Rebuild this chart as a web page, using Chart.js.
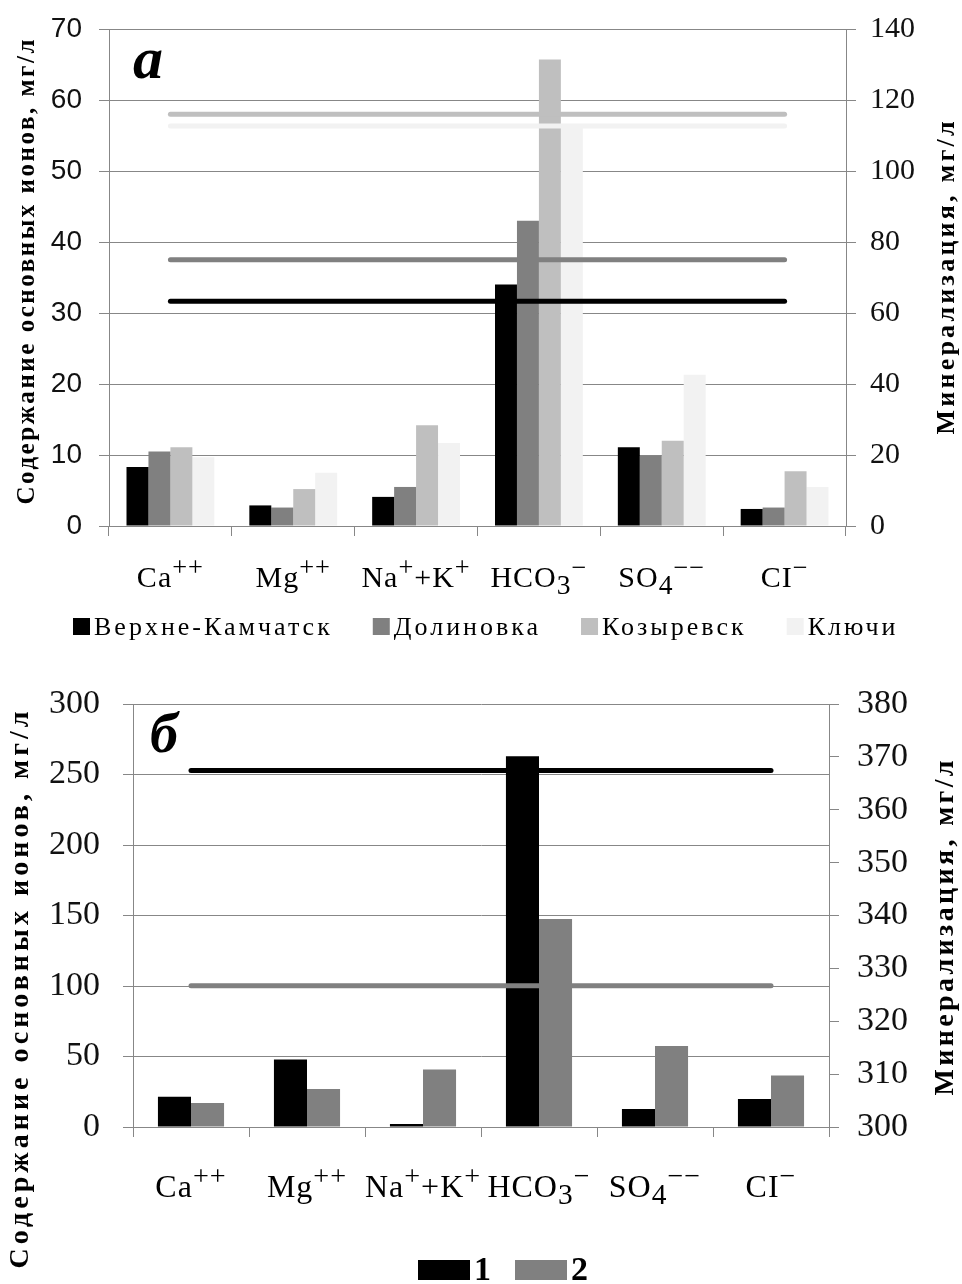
<!DOCTYPE html>
<html lang="ru">
<head>
<meta charset="utf-8">
<title>Ионный состав и минерализация</title>
<script src="https://cdn.jsdelivr.net/npm/chart.js@4.4.1/dist/chart.umd.min.js"></script>
<style>
  body { margin: 0; background: #fff; width: 962px; height: 1284px; overflow: hidden; position: relative; }
  .box { position: absolute; left: 0; width: 962px; }
  #boxA { top: 0; height: 655px; }
  #boxB { top: 660px; height: 624px; }
</style>
</head>
<body>
<div class="box" id="boxA"><canvas id="chartA"></canvas></div>
<div class="box" id="boxB"><canvas id="chartB"></canvas></div>

<script>
// categories (ions); ^{} = superscript, _{} = subscript
const categories = ['Ca^{++}', 'Mg^{++}', 'Na^{+}+K^{+}', 'HCO_{3}^{−}', 'SO_{4}^{−−}', 'CI^{−}'];
const greys = ['#000000', '#808080', '#bfbfbf', '#f2f2f2'];

// chart а - ions, mg/l (left axis)
const stationsA = ['Верхне-Камчатск', 'Долиновка', 'Козыревск', 'Ключи'];
const verkhneKamchatsk = [8.3, 2.9, 4.1, 34.0, 11.1, 2.4];
const dolinovka = [10.5, 2.6, 5.5, 43.0, 9.9, 2.6];
const kozyrevsk = [11.1, 5.2, 14.2, 65.7, 12.0, 7.7];
const klyuchi = [9.7, 7.5, 11.7, 56.5, 21.3, 5.5];
// mineralisation, mg/l (right axis), same order as stationsA
const mineralA = [63.3, 75.0, 116.0, 112.7];
const leftTicksA = [0, 10, 20, 30, 40, 50, 60, 70];
const rightTicksA = [0, 20, 40, 60, 80, 100, 120, 140];

// chart б
const seriesB = ['1', '2'];
const ionsB1 = [21.5, 47.9, 2.1, 263.0, 12.7, 19.9];
const ionsB2 = [17.1, 26.9, 40.7, 147.5, 57.4, 36.6];
const mineralB = [367.4, 326.7];
const leftTicksB = [0, 50, 100, 150, 200, 250, 300];
const rightTicksB = [300, 310, 320, 330, 340, 350, 360, 370, 380];

const gridColor = '#878787';
const serif = '"Liberation Serif", "Times New Roman", serif';

// draws a label with sub/superscripts centered at cx
function drawRich(ctx, label, cx, y, size) {
    const parts = [];
    label.replace(/([_^])\{([^}]*)\}|([^_^]+)/g, (m, mode, inner, plain) => {
        if (plain) parts.push({ t: plain, s: size, dy: 0 });
        else if (mode === '^') parts.push({ t: inner, s: size * 0.88, dy: -size * 0.36 });
        else parts.push({ t: inner, s: size * 0.92, dy: size * 0.22 });
        return m;
    });
    ctx.letterSpacing = '1px';
    let w = 0;
    parts.forEach(p => {
        ctx.font = p.s + 'px ' + serif;
        p.w = ctx.measureText(p.t).width;
        w += p.w;
    });
    let x = cx - w / 2;
    ctx.textAlign = 'left';
    parts.forEach(p => {
        ctx.font = p.s + 'px ' + serif;
        ctx.fillText(p.t, x, y + p.dy);
        x += p.w;
    });
}

// category labels, axis titles, panel letter and legend
const decor = {
    id: 'decor',
    afterDraw(chart, args, o) {
        const ctx = chart.ctx;
        const xs = chart.scales.x;
        ctx.save();
        ctx.fillStyle = '#000';
        ctx.textBaseline = 'alphabetic';
        chart.data.labels.forEach((lab, i) => {
            drawRich(ctx, lab, xs.getPixelForValue(i), o.labelY, o.labelSize);
        });

        o.titles.forEach(t => {
            ctx.save();
            ctx.translate(t.x, t.y);
            ctx.rotate(-Math.PI / 2);
            ctx.font = 'bold ' + t.size + 'px ' + serif;
            ctx.letterSpacing = '0px';
            const w0 = ctx.measureText(t.text).width;
            const sp = Math.max(0, (t.len - w0) / (t.text.length - 1));
            ctx.letterSpacing = sp + 'px';
            ctx.textAlign = 'left';
            ctx.textBaseline = 'middle';
            ctx.fillText(t.text, -t.len / 2, 0);
            ctx.restore();
        });

        ctx.letterSpacing = '0px';
        ctx.textAlign = 'left';
        ctx.font = 'bold italic ' + o.letter.size + 'px ' + serif;
        ctx.fillText(o.letter.text, o.letter.x, o.letter.y);

        const lg = o.legend;
        let x = lg.x;
        ctx.font = lg.font;
        ctx.letterSpacing = lg.spacing + 'px';
        chart.data.datasets.filter(d => d.type === 'bar').forEach(d => {
            ctx.fillStyle = d.backgroundColor;
            ctx.fillRect(x, lg.y - lg.boxH, lg.boxW, lg.boxH);
            x += lg.boxW + 4;
            ctx.fillStyle = '#000';
            ctx.fillText(d.label, x, lg.y);
            x += ctx.measureText(d.label).width + lg.gap;
        });
        ctx.restore();
    }
};

function yScale(pos, ticks, font, padding, width, grid) {
    return {
        position: pos,
        min: ticks[0],
        max: ticks[ticks.length - 1],
        afterBuildTicks: s => { s.ticks = ticks.map(v => ({ value: v })); },
        ticks: { font: font, color: '#111', padding: padding },
        grid: { color: gridColor, tickLength: 10, drawOnChartArea: grid },
        border: { color: gridColor },
        // fixed width; let layout padding alone decide the plot top
        afterFit: s => { s.width = width; s.paddingTop = 0; s.paddingBottom = 0; }
    };
}

function xScale(height) {
    return {
        offset: true,
        grid: { drawOnChartArea: false, drawTicks: true, tickLength: 10, color: gridColor, offset: true },
        border: { color: gridColor },
        ticks: { display: false },
        afterFit: s => { s.height = height; }
    };
}

function lineSet(label, value, color) {
    return {
        type: 'line',
        label: label,
        data: categories.map(() => value),
        borderColor: color,
        borderWidth: 5,
        borderCapStyle: 'round',
        pointRadius: 0,
        fill: false,
        yAxisID: 'y2',
        order: 0
    };
}

// chart а
const ionsA = [verkhneKamchatsk, dolinovka, kozyrevsk, klyuchi];
new Chart(document.getElementById('chartA'), {
    type: 'bar',
    data: {
        labels: categories,
        datasets: [
            ...stationsA.map((name, i) => ({
                type: 'bar', label: name, data: ionsA[i], backgroundColor: greys[i],
                yAxisID: 'y', order: 1, categoryPercentage: 0.715, barPercentage: 1
            })),
            ...mineralA.map((v, i) => lineSet('Минерализация ' + stationsA[i], v, greys[i]))
        ]
    },
    options: {
        responsive: true,
        maintainAspectRatio: false,
        animation: false,
        layout: { padding: { top: 29, bottom: 0, left: 0, right: 0 } },
        scales: {
            x: xScale(129),
            y: yScale('left', leftTicksA, { family: '"Liberation Sans", Arial, sans-serif', size: 28 }, 17, 109, true),
            y2: yScale('right', rightTicksA, { family: serif, size: 30 }, 14, 116, false)
        },
        plugins: {
            legend: { display: false },
            tooltip: { enabled: false },
            decor: {
                labelY: 587, labelSize: 30,
                titles: [
                    { text: 'Содержание основных ионов, мг/л', x: 28, y: 272, size: 25, len: 465 },
                    { text: 'Минерализация, мг/л', x: 947, y: 278, size: 26, len: 313 }
                ],
                letter: { text: 'а', x: 133, y: 78, size: 60 },
                legend: { x: 73, y: 635, boxW: 17, boxH: 17, font: '26px ' + serif, spacing: 3, gap: 40 }
            }
        }
    },
    plugins: [decor]
});

// chart б
const ionsB = [ionsB1, ionsB2];
new Chart(document.getElementById('chartB'), {
    type: 'bar',
    data: {
        labels: categories,
        datasets: [
            ...seriesB.map((name, i) => ({
                type: 'bar', label: name, data: ionsB[i], backgroundColor: greys[i],
                yAxisID: 'y', order: 1, categoryPercentage: 0.57, barPercentage: 1
            })),
            ...mineralB.map((v, i) => lineSet('Минерализация ' + seriesB[i], v, greys[i]))
        ]
    },
    options: {
        responsive: true,
        maintainAspectRatio: false,
        animation: false,
        layout: { padding: { top: 44, bottom: 0, left: 0, right: 0 } },
        scales: {
            x: xScale(157),
            y: yScale('left', leftTicksB, { family: serif, size: 34 }, 23, 133, true),
            y2: yScale('right', rightTicksB, { family: serif, size: 34 }, 18, 133, false)
        },
        plugins: {
            legend: { display: false },
            tooltip: { enabled: false },
            decor: {
                labelY: 537, labelSize: 32,
                titles: [
                    { text: 'Содержание основных ионов, мг/л', x: 21, y: 330, size: 28, len: 557 },
                    { text: 'Минерализация, мг/л', x: 946, y: 268, size: 28, len: 335 }
                ],
                letter: { text: 'б', x: 150, y: 92, size: 56 },
                legend: { x: 418, y: 620, boxW: 52, boxH: 20, font: 'bold 34px ' + serif, spacing: 0, gap: 24 }
            }
        }
    },
    plugins: [decor]
});
</script>
</body>
</html>
